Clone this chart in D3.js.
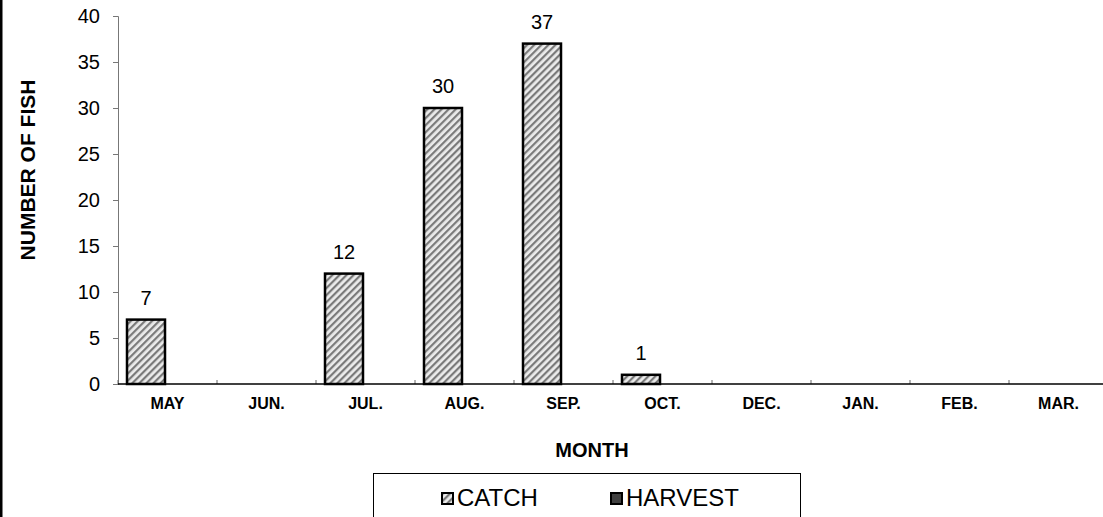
<!DOCTYPE html>
<html>
<head>
<meta charset="utf-8">
<script src="https://cdn.jsdelivr.net/npm/d3@7"></script>
<style>
  body { margin: 0; background: #fff; }
  text { font-family: Arial, "Liberation Sans", sans-serif; }
</style>
</head>
<body>
<div id="chart"></div>
<script>
// data
var months = ["MAY", "JUN.", "JUL.", "AUG.", "SEP.", "OCT.", "DEC.", "JAN.", "FEB.", "MAR."];
var catchVals = [7, 0, 12, 30, 37, 1, 0, 0, 0, 0];
var harvestVals = [0, 0, 0, 0, 0, 0, 0, 0, 0, 0];
var seriesNames = ["CATCH", "HARVEST"];
var yTicks = [0, 5, 10, 15, 20, 25, 30, 35, 40];

var width = 1103, height = 517;

var svg = d3.select("#chart").append("svg")
    .attr("width", width)
    .attr("height", height);

// hatch pattern for catch bars
var defs = svg.append("defs");
var pat = defs.append("pattern")
    .attr("id", "hatch")
    .attr("patternUnits", "userSpaceOnUse")
    .attr("width", 5)
    .attr("height", 5)
    .attr("patternTransform", "rotate(45)");
pat.append("rect").attr("width", 5).attr("height", 5).attr("fill", "#ebebeb");
pat.append("rect").attr("width", 2.2).attr("height", 5).attr("fill", "#7a7a7a");

// left border
svg.append("rect")
    .attr("x", 0).attr("y", 0)
    .attr("width", 2.5).attr("height", height)
    .attr("fill", "#000");

var x0 = d3.scaleBand().domain(months).range([118, 1108]);
var x1 = d3.scaleBand().domain(seriesNames).range([9, 85]);
var y = d3.scaleLinear().domain([0, 40]).range([384, 16]);

// y axis
var yAxis = svg.append("g")
    .attr("transform", "translate(118,0)")
    .call(d3.axisLeft(y).tickValues(yTicks).tickSize(5).tickPadding(13));
yAxis.select(".domain").attr("stroke", "#777");
yAxis.selectAll(".tick line").attr("stroke", "#777");
yAxis.selectAll(".tick text")
    .attr("font-size", 20)
    .attr("font-family", "Arial, 'Liberation Sans', sans-serif")
    .attr("fill", "#000");

// x axis: ticks sit between the months, pointing up
var boundaries = months.map(function(m) { return x0(m); });
svg.append("g").selectAll("line")
    .data(boundaries)
    .enter().append("line")
      .attr("x1", function(d) { return d; })
      .attr("x2", function(d) { return d; })
      .attr("y1", 384)
      .attr("y2", 380)
      .attr("stroke", "#666");
svg.append("line")
    .attr("x1", 118).attr("x2", width)
    .attr("y1", 384).attr("y2", 384)
    .attr("stroke", "#000")
    .attr("stroke-width", 1.5);

svg.append("g").selectAll("text")
    .data(months)
    .enter().append("text")
      .attr("x", function(d) { return x0(d) + x0.bandwidth() / 2; })
      .attr("y", 409)
      .attr("text-anchor", "middle")
      .attr("font-size", 16)
      .attr("font-weight", "bold")
      .text(function(d) { return d; });

// bars
var rows = months.map(function(m, i) {
  return { month: m, CATCH: catchVals[i], HARVEST: harvestVals[i] };
});

var groups = svg.append("g").selectAll("g")
    .data(rows)
    .enter().append("g")
      .attr("transform", function(d) { return "translate(" + x0(d.month) + ",0)"; });

groups.selectAll("rect")
    .data(function(d) {
      return seriesNames.map(function(s) { return { key: s, value: d[s] }; })
        .filter(function(e) { return e.value > 0; });
    })
    .enter().append("rect")
      .attr("x", function(d) { return x1(d.key); })
      .attr("width", x1.bandwidth())
      .attr("y", function(d) { return y(d.value); })
      .attr("height", function(d) { return y(0) - y(d.value); })
      .attr("fill", function(d) { return d.key == "CATCH" ? "url(#hatch)" : "#404040"; })
      .attr("stroke", "#000")
      .attr("stroke-width", 2.5);

// value labels
groups.selectAll("text")
    .data(function(d) { return d.CATCH > 0 ? [d.CATCH] : []; })
    .enter().append("text")
      .attr("x", x1("CATCH") + x1.bandwidth() / 2)
      .attr("y", function(d) { return y(d) - 15; })
      .attr("text-anchor", "middle")
      .attr("font-size", 20)
      .text(function(d) { return d; });

// axis titles
svg.append("text")
    .attr("transform", "translate(35,170) rotate(-90)")
    .attr("text-anchor", "middle")
    .attr("font-size", 21)
    .attr("font-weight", "bold")
    .text("NUMBER OF FISH");

svg.append("text")
    .attr("x", 592)
    .attr("y", 457)
    .attr("text-anchor", "middle")
    .attr("font-size", 20)
    .attr("font-weight", "bold")
    .text("MONTH");

// legend
var legend = svg.append("g");
legend.append("rect")
    .attr("x", 373.5).attr("y", 473.5)
    .attr("width", 427).attr("height", 60)
    .attr("fill", "#fff")
    .attr("stroke", "#000");

var legendX = [442, 611];
var items = legend.selectAll("g")
    .data(seriesNames)
    .enter().append("g")
      .attr("transform", function(d, i) { return "translate(" + legendX[i] + ",493)"; });
items.append("rect")
    .attr("width", 11).attr("height", 11)
    .attr("fill", function(d) { return d == "CATCH" ? "url(#hatch)" : "#404040"; })
    .attr("stroke", "#000")
    .attr("stroke-width", 2);
items.append("text")
    .attr("x", 15)
    .attr("y", 12.5)
    .attr("font-size", 24)
    .text(function(d) { return d; });
</script>
</body>
</html>
